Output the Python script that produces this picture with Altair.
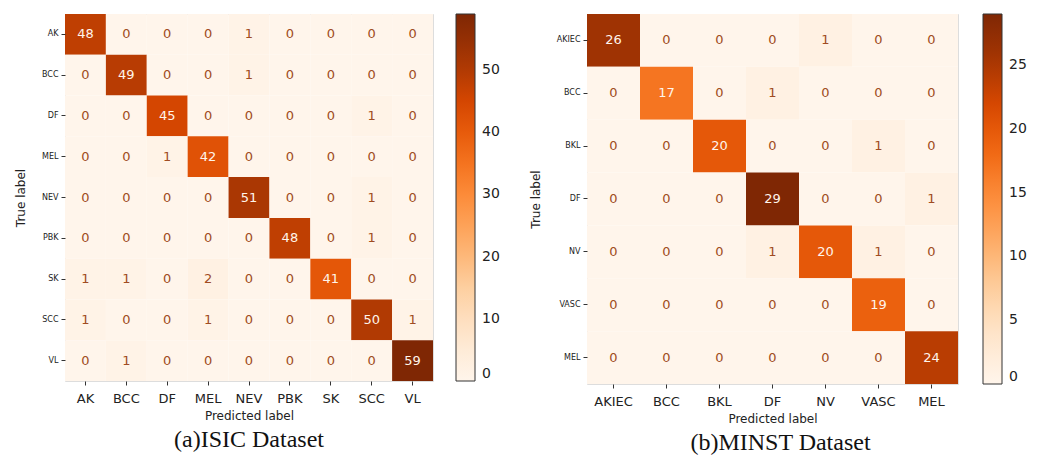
import altair as alt
import pandas as pd

isic_labels = ["AK", "BCC", "DF", "MEL", "NEV", "PBK", "SK", "SCC", "VL"]
isic_matrix = [
    [48, 0, 0, 0, 1, 0, 0, 0, 0],
    [0, 49, 0, 0, 1, 0, 0, 0, 0],
    [0, 0, 45, 0, 0, 0, 0, 1, 0],
    [0, 0, 1, 42, 0, 0, 0, 0, 0],
    [0, 0, 0, 0, 51, 0, 0, 1, 0],
    [0, 0, 0, 0, 0, 48, 0, 1, 0],
    [1, 1, 0, 2, 0, 0, 41, 0, 0],
    [1, 0, 0, 1, 0, 0, 0, 50, 1],
    [0, 1, 0, 0, 0, 0, 0, 0, 59],
]
isic_ticks = [0, 10, 20, 30, 40, 50]

minst_labels = ["AKIEC", "BCC", "BKL", "DF", "NV", "VASC", "MEL"]
minst_matrix = [
    [26, 0, 0, 0, 1, 0, 0],
    [0, 17, 0, 1, 0, 0, 0],
    [0, 0, 20, 0, 0, 1, 0],
    [0, 0, 0, 29, 0, 0, 1],
    [0, 0, 0, 1, 20, 1, 0],
    [0, 0, 0, 0, 0, 19, 0],
    [0, 0, 0, 0, 0, 0, 24],
]
minst_ticks = [0, 5, 10, 15, 20, 25]

# matplotlib "Oranges" colour stops
oranges = ["#fff5eb", "#fee6ce", "#fdd0a2", "#fdae6b", "#fd8d3c",
           "#f16913", "#d94801", "#a63603", "#7f2704"]

AX_FONT = "DejaVu Sans"
LOW_TEXT = "#a04c22"
HIGH_TEXT = "#fff5eb"


def to_df(labels, matrix):
    rows = []
    for i, t in enumerate(labels):
        for j, p in enumerate(labels):
            rows.append({"true": t, "pred": p, "v": matrix[i][j]})
    return pd.DataFrame(rows)


def cm_chart(labels, matrix, ticks, caption, w, h, legend_offset, cap_dx):
    df = to_df(labels, matrix)
    vmax = max(max(r) for r in matrix)
    thresh = vmax / 2.0
    n = len(oranges) - 1
    stops = [vmax * k / n for k in range(n + 1)]
    base = alt.Chart(df)
    rect = base.mark_rect().encode(
        x=alt.X("pred:N", sort=labels,
                axis=alt.Axis(title="Predicted label", labelAngle=0, labelFontSize=13,
                              titleFontSize=12, titleFontWeight="normal", domain=False,
                              tickSize=4, tickColor="#333", labelColor="#222",
                              titleColor="#222", labelFont=AX_FONT, titleFont=AX_FONT,
                              labelPadding=7, titlePadding=5)),
        y=alt.Y("true:N", sort=labels,
                axis=alt.Axis(title="True label", labelFontSize=8, titleFontSize=12,
                              titleFontWeight="normal", domain=False, tickSize=4,
                              tickColor="#333", labelColor="#222", titleColor="#222",
                              labelFont=AX_FONT, titleFont=AX_FONT, labelPadding=3,
                              titlePadding=14)),
        color=alt.Color("v:Q",
                        scale=alt.Scale(domain=stops, range=oranges),
                        legend=alt.Legend(title=None, gradientLength=h, gradientThickness=19,
                                          values=ticks, labelFontSize=14, labelColor="#222",
                                          labelFont=AX_FONT, gradientStrokeColor="#333",
                                          gradientStrokeWidth=1, offset=legend_offset,
                                          labelOffset=7, padding=0, labelBaseline="middle")),
    )
    text = base.mark_text(fontSize=13, font=AX_FONT).encode(
        x=alt.X("pred:N", sort=labels),
        y=alt.Y("true:N", sort=labels),
        text="v:Q",
        color=alt.condition(alt.datum.v > thresh, alt.value(HIGH_TEXT), alt.value(LOW_TEXT)),
    )
    return alt.layer(rect, text).properties(
        width=w, height=h,
        title=alt.TitleParams(caption, orient="bottom", font="Liberation Serif", fontSize=24,
                              fontWeight="normal", color="#111", anchor="middle",
                              frame="group", offset=7, dx=cap_dx),
    )


left = cm_chart(isic_labels, isic_matrix, isic_ticks, "(a)ISIC Dataset", 368, 367, 23, 0)
right = cm_chart(minst_labels, minst_matrix, minst_ticks, "(b)MINST Dataset", 371, 370, 25, 8)

chart = alt.hconcat(left, right, spacing=27).resolve_scale(color="independent").configure_view(
    stroke="#333", strokeWidth=1
).configure(background="white")

chart.save("out.html", embed_options={"renderer": "svg", "actions": False})
